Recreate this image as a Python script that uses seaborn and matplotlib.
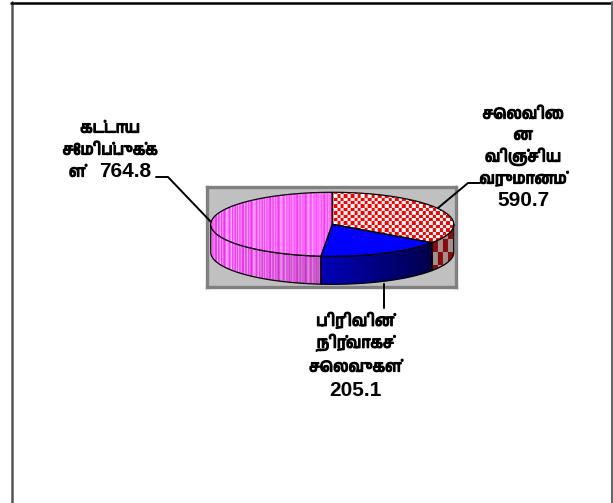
import numpy as np
import matplotlib
matplotlib.use("Agg")
import matplotlib.pyplot as plt
import matplotlib.patheffects as pe
from matplotlib import font_manager as fm, ft2font
from matplotlib.colors import to_rgb
from matplotlib.lines import Line2D
from matplotlib.patches import Polygon
import seaborn as sns

categories = ["செலவிை\nன\nவிஞ்சிய\nவருமானம்", "பிரிவின்\nநிர்வாகச்\nசெலவுகள்", "கட்டாய\nசேமிப்புக்க\nள்"]
values = [590.7, 205.1, 764.8]
value_labels = ["590.7", "205.1", "764.8"]

sns.set_theme(style="white")

# pick a font with Tamil glyphs if the machine has one
tamil = []
for path in fm.findSystemFonts():
    try:
        if 0x0B95 in ft2font.FT2Font(path).get_charmap():
            tamil.append(fm.FontProperties(fname=path).get_name())
    except Exception:
        pass
plt.rcParams["font.family"] = ["Liberation Sans"] + sorted(set(tamil)) + ["DejaVu Sans"]

W, H = 613, 503
fig = plt.figure(figsize=(W / 100, H / 100), dpi=100, facecolor="white")
L, R, T, B = 207, 456, 187, 287
ax = fig.add_axes([L / W, 1 - B / H, (R - L) / W, (B - T) / H], facecolor="#c0c0c0")
cx, cy, a, b, depth_px = 332.3, 224.3, 121.5, 32.0, 28.0
ax.set_xlim((L - cx) / a, (R - cx) / a)
ax.set_ylim((cy - B) / b, (cy - T) / b)
ax.set_xticks([]); ax.set_yticks([])
for s in ax.spines.values():
    s.set_color("#808080"); s.set_linewidth(2.4)
depth = depth_px / b
K = 1.5  # foreshortening of slice angles on the tilted disc


def warp(t):
    """clockwise degrees from 12 o'clock -> screen parameter"""
    t = np.asarray(t, float)
    out = np.degrees(np.arctan2(K * np.sin(np.radians(t)), np.cos(np.radians(t))))
    return np.mod(out, 360)


def rim(t1, t2, dz=0.0, n=120):
    th = np.radians(np.linspace(t1, t2, n))
    return np.column_stack([np.sin(th), np.cos(th) - dz])


ext = ax.get_xlim() + ax.get_ylim()
nx, ny = R - L, B - T
yy, xx = np.mgrid[0:ny, 0:nx]


def checker(c1, c2, size=3.4):
    m = (np.floor(xx / size) + np.floor(yy / size)) % 2
    return np.where(m[..., None] == 0, np.array(to_rgb(c1)), np.array(to_rgb(c2)))


stripe_cols = np.array([to_rgb(c) for c in
                        ["#ff66ff", "#ff33ff", "#ff9cff", "#f040f0", "#ff80ff", "#ff4dff", "#ffc0ff",
                         "#ff33ff", "#f566f5", "#ff8cff", "#ee33ee", "#ff70ff", "#ffb0ff"]])
stripe_idx = np.array([0, 3, 2, 1, 6, 5, 0, 4, 1, 7, 6, 3, 8, 12, 1, 9, 5, 10, 0, 12, 2, 11, 7, 4, 6, 1, 9])
stripes = stripe_cols[stripe_idx[np.arange(nx) % len(stripe_idx)]][None, :, :].repeat(ny, 0)

c_l, c_r = np.array(to_rgb("#0000b8")), np.array(to_rgb("#00004a"))
x_rel = (np.arange(nx) + L - (cx - 12)) / 112.0
side_blue = (c_l + np.clip(x_rel, 0, 1)[None, :, None] * (c_r - c_l)) * np.ones((ny, nx, 3))
side_red = np.where((((xx // 5) % 2) == 0)[..., None] ^ (((yy // 13) % 2) == 0)[..., None],
                    np.array(to_rgb("#8c0a0a")), np.array(to_rgb("#a09090")))
fade = np.clip((np.arange(nx) + L - 212) / 110.0, 0, 1)[None, :, None]
side_mag = stripes * (1 - 0.2 * fade)

top_tex = [checker("#ff0000", "#ffffff"), np.array(to_rgb("#0000ff")) * np.ones((ny, nx, 3)), stripes]
side_tex = [side_red, side_blue, side_mag]

fracs = np.cumsum([0] + values) / np.sum(values) * 360
edges = warp(fracs[:-1]).tolist() + [360.0]
edges[0] = 0.0


def textured(poly_pts, tex, z):
    patch = Polygon(poly_pts, closed=True, facecolor="none", edgecolor="black", linewidth=0.9, zorder=z + 0.1)
    ax.add_patch(patch)
    im = ax.imshow(tex, extent=ext, origin="upper", aspect="auto", interpolation="bilinear", zorder=z)
    im.set_clip_path(patch)


for i in range(len(values)):
    t1, t2 = edges[i], edges[i + 1]
    lo, hi = max(t1, 90), min(t2, 270)
    if hi > lo:
        textured(np.vstack([rim(lo, hi), rim(hi, lo, depth)]), side_tex[i], 2)
    textured(np.vstack([[0, 0], rim(t1, t2)]), top_tex[i], 3)
ax.set_xlim(ext[0], ext[1]); ax.set_ylim(ext[2], ext[3])


def fx(x):
    return x / W


def fy(y):
    return 1 - y / H


# frame of the chart area
fig.add_artist(Line2D([fx(12), fx(12)], [fy(2), 0], color="#555555", lw=1.8))
fig.add_artist(Line2D([fx(11), 1], [fy(2.5), fy(2.5)], color="black", lw=1.8))
fig.add_artist(Line2D([fx(612), fx(612)], [fy(2), 0], color="#666666", lw=1.5))

# leader lines
leaders = [([438, 468, 480], [208, 183, 183]),
           ([384, 384], [284, 308]),
           ([156, 168, 211], [177, 177, 222])]
for xs, ys in leaders:
    fig.add_artist(Line2D([fx(v) for v in xs], [fy(v) for v in ys], color="black", lw=1.4, zorder=5))


def tamil_text(x, y, s):
    fig.text(fx(x), fy(y), s, ha="center", va="center", fontsize=11.2, fontweight="bold", color="black",
             path_effects=[pe.withStroke(linewidth=0.9, foreground="black")])


def value_text(x, y, s):
    fig.text(fx(x), fy(y), s, ha="center", va="center", fontsize=15, fontweight="bold", color="black")


# labels, line by line
label_rows = [(523, [114, 135, 157, 179], (523, 200)),
              (355, [321, 343, 367], (355, 390)),
              (110, [128, 150, 172], (125, 172))]
for i, (x, ys, (vx, vy)) in enumerate(label_rows):
    lines = categories[i].split("\n")
    for j, (line, y) in enumerate(zip(lines, ys)):
        # the last text line of the left label shares its row with the value
        lx = 77 if (i == 2 and j == len(lines) - 1) else x
        tamil_text(lx, y, line)
    value_text(vx, vy, value_labels[i])

fig.savefig("out.png", dpi=100, facecolor="white")
